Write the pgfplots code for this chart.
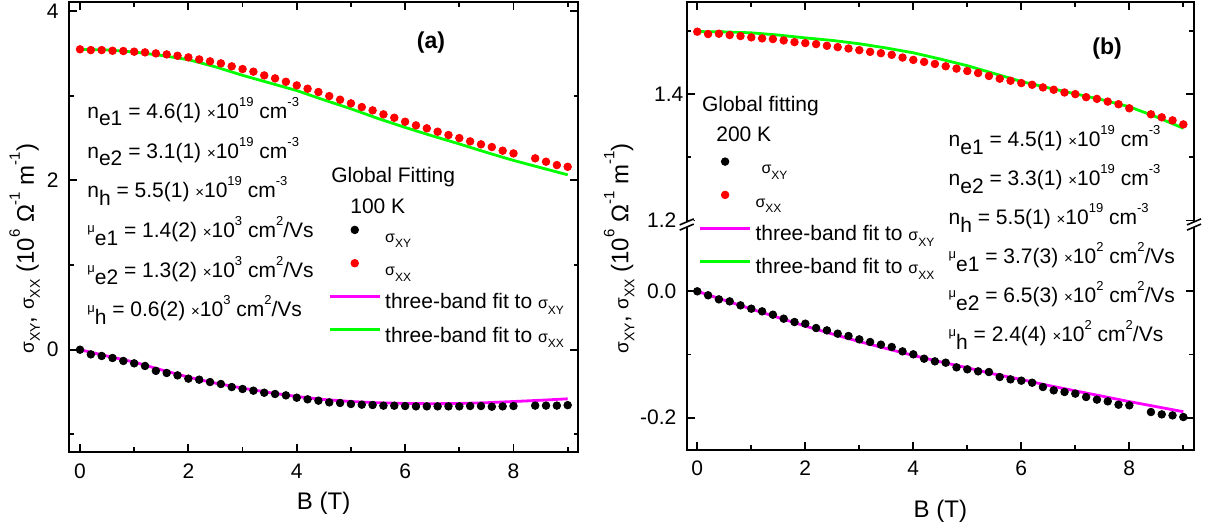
\documentclass[border=0pt]{standalone}
\usepackage{fontspec}
\setmainfont{Liberation Sans}
\usepackage{pgfplots}
\pgfplotsset{compat=1.18}
\usepackage{pgfplotstable}

\definecolor{dotred}{HTML}{FF0000}
\definecolor{fitmag}{HTML}{FF00FF}
\definecolor{fitgreen}{HTML}{00FF00}

\newcommand{\fs}[1]{\fontsize{#1}{#1}\selectfont}
\newcommand{\lo}[1]{\raisebox{-3.8pt}{#1}}
\newcommand{\hi}[1]{\raisebox{6pt}{\fs{6.5}#1}}
\newcommand{\tm}{{\fs{7.5}×}}
\newcommand{\mug}{\raisebox{2.4pt}{\fs{6.5}μ}}
\newcommand{\sig}[1]{{\fs{8}σ}\raisebox{-2.8pt}{\fs{6}#1}}
% larger versions for the axis label
\newcommand{\sigL}[1]{{\fs{9.5}σ}\raisebox{-3pt}{\fs{7}#1}}
\newcommand{\hiL}[1]{\raisebox{7pt}{\fs{7.5}#1}}

% panel (a), 100 K
\pgfplotstableread{
B s
0.0 0.000
0.2 -0.055
0.4 -0.074
0.6 -0.098
0.8 -0.133
1.0 -0.161
1.2 -0.192
1.4 -0.250
1.6 -0.275
1.8 -0.303
2.0 -0.342
2.2 -0.354
2.4 -0.382
2.6 -0.405
2.8 -0.441
3.0 -0.464
3.2 -0.484
3.4 -0.508
3.6 -0.523
3.8 -0.539
4.0 -0.567
4.2 -0.586
4.4 -0.602
4.6 -0.622
4.8 -0.629
5.0 -0.641
5.2 -0.649
5.4 -0.653
5.6 -0.661
5.8 -0.661
6.0 -0.665
6.2 -0.669
6.4 -0.669
6.6 -0.669
6.8 -0.669
7.0 -0.669
7.2 -0.665
7.4 -0.665
7.6 -0.673
7.8 -0.669
8.0 -0.665
8.4 -0.660
8.6 -0.660
8.8 -0.660
9.0 -0.655
}\xyA
\pgfplotstableread{
B s
0.0 3.547
0.2 3.538
0.4 3.538
0.6 3.530
0.8 3.527
1.0 3.519
1.2 3.511
1.4 3.499
1.6 3.487
1.8 3.471
2.0 3.452
2.2 3.428
2.4 3.405
2.6 3.381
2.8 3.346
3.0 3.314
3.2 3.283
3.4 3.239
3.6 3.204
3.8 3.164
4.0 3.121
4.2 3.082
4.4 3.043
4.6 2.995
4.8 2.952
5.0 2.909
5.2 2.865
5.4 2.826
5.6 2.779
5.8 2.739
6.0 2.692
6.2 2.649
6.4 2.614
6.6 2.574
6.8 2.535
7.0 2.499
7.2 2.460
7.4 2.425
7.6 2.393
7.8 2.350
8.0 2.318
8.4 2.260
8.6 2.220
8.8 2.180
9.0 2.160
}\xxA
\pgfplotstableread{
B s
0 0
0.5 -0.075
1 -0.147
1.5 -0.238
2 -0.324
2.5 -0.395
3 -0.454
3.5 -0.507
4 -0.553
4.5 -0.588
5 -0.612
5.5 -0.627
6 -0.635
6.5 -0.638
7 -0.635
7.5 -0.626
8 -0.612
8.5 -0.597
9 -0.580
}\fxyA
\pgfplotstableread{
B s
0 3.547
0.5 3.540
1 3.515
1.5 3.475
2 3.425
2.5 3.340
3 3.240
3.5 3.150
4 3.060
4.5 2.950
5 2.845
5.5 2.730
6 2.625
6.5 2.525
7 2.430
7.5 2.330
8 2.235
8.5 2.150
9 2.065
}\fxxA

% panel (b), 200 K
\pgfplotstableread{
B s
0.0 0.0000
0.2 -0.0063
0.4 -0.0127
0.6 -0.0159
0.8 -0.0222
1.0 -0.0275
1.2 -0.0317
1.4 -0.0370
1.6 -0.0433
1.8 -0.0486
2.0 -0.0512
2.2 -0.0581
2.4 -0.0618
2.6 -0.0670
2.8 -0.0707
3.0 -0.0760
3.2 -0.0802
3.4 -0.0844
3.6 -0.0881
3.8 -0.0950
4.0 -0.0997
4.2 -0.1066
4.4 -0.1108
4.6 -0.1129
4.8 -0.1203
5.0 -0.1234
5.2 -0.1266
5.4 -0.1277
5.6 -0.1356
5.8 -0.1393
6.0 -0.1414
6.2 -0.1446
6.4 -0.1514
6.6 -0.1567
6.8 -0.1593
7.0 -0.1619
7.2 -0.1672
7.4 -0.1714
7.6 -0.1741
7.8 -0.1794
8.0 -0.1804
8.4 -0.1910
8.6 -0.1947
8.8 -0.1963
9.0 -0.1989
}\xyB
\pgfplotstableread{
B s
0.0 1.4988
0.2 1.4951
0.4 1.4956
0.6 1.4935
0.8 1.4919
1.0 1.4898
1.2 1.4882
1.4 1.4871
1.6 1.4850
1.8 1.4823
2.0 1.4808
2.2 1.4792
2.4 1.4765
2.6 1.4744
2.8 1.4722
3.0 1.4696
3.2 1.4669
3.4 1.4648
3.6 1.4622
3.8 1.4579
4.0 1.4542
4.2 1.4510
4.4 1.4478
4.6 1.4441
4.8 1.4404
5.0 1.4366
5.2 1.4334
5.4 1.4287
5.6 1.4244
5.8 1.4212
6.0 1.4175
6.2 1.4148
6.4 1.4106
6.6 1.4069
6.8 1.4026
7.0 1.4000
7.2 1.3952
7.4 1.3925
7.6 1.3882
7.8 1.3840
8.0 1.3776
8.4 1.3681
8.6 1.3633
8.8 1.3585
9.0 1.3521
}\xxB
\pgfplotstableread{
B s
0 0
0.5 -0.0140
1 -0.0280
1.5 -0.0415
2 -0.0550
2.5 -0.0675
3 -0.0795
3.5 -0.0905
4 -0.1015
4.5 -0.1115
5 -0.1210
5.5 -0.1310
6 -0.1395
6.5 -0.1490
7 -0.1575
7.5 -0.1660
8 -0.1745
8.5 -0.1825
9 -0.1905
}\fxyB
\pgfplotstableread{
B s
0 1.4990
0.5 1.4985
1 1.4970
1.5 1.4935
2 1.4890
2.5 1.4850
3 1.4797
3.5 1.4730
4 1.4654
4.5 1.4555
5 1.4450
5.5 1.4325
6 1.4200
6.5 1.4100
7 1.4005
7.5 1.3910
8 1.3800
8.5 1.3640
9 1.3460
}\fxxB

\pgfplotsset{
  dotleg/.style={legend image code/.code={\path[draw=none, fill=none] (0pt,0pt) -- (25pt,0pt);
      \draw[##1] plot coordinates {(12.5pt,0pt)};}},
  lineleg/.style={legend image code/.code={\draw[##1] (0pt,0pt) -- (25pt,0pt);}},
  panel/.style={
    scale only axis, clip=false,
    axis line style={line width=1pt},
    every tick/.style={black, line width=0.9pt},
    major tick length=4pt, minor tick length=2.3pt,
    tick align=inside,
    xtick={0,2,4,6,8}, minor xtick={1,3,5,7,9},
    /pgf/number format/assume math mode=true,
    tick label style={font=\fs{10.5}},
    xticklabel style={anchor=base, inner sep=0pt},
    yticklabel style={anchor=east, inner sep=0pt, xshift=-5pt},
    label style={font=\fs{12}},
    legend cell align=left,
    legend style={draw=none, fill=none, inner sep=0pt, row sep=6.15pt,
      column sep=2pt, font=\fs{10.5},
      nodes={inner sep=0pt, text height=8pt, text depth=2.5pt}},
    every legend image post/.style={yshift=3.35pt},
  },
  dots/.style={only marks, mark=*, mark size=1.9pt, dotleg,
    mark options={draw=#1, fill=#1}},
  fit/.style={no marks, line width=1.4pt, color=#1, lineleg},
}
\tikzset{ann/.style={anchor=base west, inner sep=0pt, font=\fs{10.5}}}

\begin{document}
\begin{tikzpicture}
\useasboundingbox (0,0) rectangle (604pt,262pt);

\begin{axis}[panel,
  at={(34.5pt,36pt)}, anchor=south west,
  width=254.65pt, height=225pt,
  xmin=-0.203, xmax=9.196, ymin=-1.208, ymax=4.106,
  ytick={0,2,4}, minor ytick={-1,1,3},
  xticklabel style={yshift=-13.3pt},
  xlabel={B (T)},
  xlabel style={at={(axis description cs:0.5,0)}, anchor=base, yshift=-28.5pt},
  ylabel={\sigL{XY}, \sigL{XX} (10\hiL{6} Ω\hiL{-1} m\hiL{-1})},
  ylabel style={at={(axis description cs:-0.0688,0.452)}, anchor=base},
  legend style={at={(axis cs:4.576,1.464)}, anchor=north west},
]
\addplot[dots=black] table[x=B, y=s] {\xyA};
\addlegendentry{\sig{XY}}
\addplot[dots=dotred] table[x=B, y=s] {\xxA};
\addlegendentry{\sig{XX}}
\addplot[fit=fitmag] table[x=B, y=s] {\fxyA};
\addlegendentry{three-band fit to \sig{XY}}
\addplot[fit=fitgreen] table[x=B, y=s] {\fxxA};
\addlegendentry{three-band fit to \sig{XX}}

\node[ann] at (axis cs:0.129,2.732) {n\lo{e1} = 4.6(1) \tm10\hi{19} cm\hi{-3}};
\node[ann] at (axis cs:0.129,2.263) {n\lo{e2} = 3.1(1) \tm10\hi{19} cm\hi{-3}};
\node[ann] at (axis cs:0.129,1.794) {n\lo{h} = 5.5(1) \tm10\hi{19} cm\hi{-3}};
\node[ann] at (axis cs:0.129,1.326) {\mug\lo{e1} = 1.4(2) \tm10\hi{3} cm\hi{2}/Vs};
\node[ann] at (axis cs:0.129,0.857) {\mug\lo{e2} = 1.3(2) \tm10\hi{3} cm\hi{2}/Vs};
\node[ann] at (axis cs:0.129,0.388) {\mug\lo{h} = 0.6(2) \tm10\hi{3} cm\hi{2}/Vs};
\node[ann] at (axis cs:4.631,1.972) {Global Fitting};
\node[ann] at (axis cs:4.982,1.610) {100 K};
\node[font=\bfseries\fs{11.5}, inner sep=0pt] at (axis cs:6.476,3.627) {(a)};
\end{axis}

\begin{axis}[panel,
  at={(343.35pt,37.15pt)}, anchor=south west,
  width=253.65pt, height=223.85pt,
  xmin=-0.196, xmax=9.198, ymin=-0.2506, ymax=0.4578,
  ytick={-0.2,0,0.112,0.312},
  yticklabels={-0.2,0.0,1.2,{1.4\hspace*{-3.5pt}}},
  minor ytick={-0.1,0.212,0.412},
  xticklabel style={yshift=-12.8pt},
  xlabel={B (T)},
  xlabel style={at={(axis description cs:0.5,0)}, anchor=base, yshift=-33.65pt},
  ylabel={\sigL{XY}, \sigL{XX} (10\hiL{6} Ω\hiL{-1} m\hiL{-1})},
  ylabel style={at={(axis description cs:-0.1151,0.4494)}, anchor=base},
  legend style={at={(axis cs:0.019,0.2119)}, anchor=north west},
]
% upper branch drawn 1.088 lower, above the axis break
\addplot[dots=black] table[x=B, y=s] {\xyB};
\addlegendentry{\hspace*{3pt}\sig{XY}}
\addplot[dots=dotred] table[x=B, y expr=\thisrow{s}-1.088] {\xxB};
\addlegendentry{\sig{XX}}
\addplot[fit=fitmag] table[x=B, y=s] {\fxyB};
\addlegendentry{three-band fit to \sig{XY}}
\addplot[fit=fitgreen] table[x=B, y expr=\thisrow{s}-1.088] {\fxxB};
\addlegendentry{three-band fit to \sig{XX}}

\node[ann] at (axis cs:4.648,0.2291) {n\lo{e1} = 4.5(1) \tm10\hi{19} cm\hi{-3}};
\node[ann] at (axis cs:4.648,0.1674) {n\lo{e2} = 3.3(1) \tm10\hi{19} cm\hi{-3}};
\node[ann] at (axis cs:4.648,0.1057) {n\lo{h} = 5.5(1) \tm10\hi{19} cm\hi{-3}};
\node[ann] at (axis cs:4.648,0.0440) {\mug\lo{e1} = 3.7(3) \tm10\hi{2} cm\hi{2}/Vs};
\node[ann] at (axis cs:4.648,-0.0177) {\mug\lo{e2} = 6.5(3) \tm10\hi{2} cm\hi{2}/Vs};
\node[ann] at (axis cs:4.648,-0.0794) {\mug\lo{h} = 2.4(4) \tm10\hi{2} cm\hi{2}/Vs};
\node[ann] at (axis cs:0.081,0.2842) {Global fitting};
\node[ann] at (axis cs:0.346,0.2367) {200 K};
\node[font=\bfseries\fs{11.5}, inner sep=0pt] at (axis cs:7.587,0.3834) {(b)};
\coordinate (brL) at (rel axis cs:0,0.503);
\coordinate (brR) at (rel axis cs:1,0.503);
\end{axis}

\foreach \c in {brL,brR}{
  \begin{scope}[shift={(\c)}]
    \fill[white] (-3.5pt,-2.8pt) -- (3.5pt,0.2pt) -- (3.5pt,2.8pt) -- (-3.5pt,-0.2pt) -- cycle;
    \draw[line width=0.8pt] (-3.5pt,-2.8pt) -- (3.5pt,0.2pt) (-3.5pt,-0.2pt) -- (3.5pt,2.8pt);
  \end{scope}
}
\end{tikzpicture}
\end{document}
